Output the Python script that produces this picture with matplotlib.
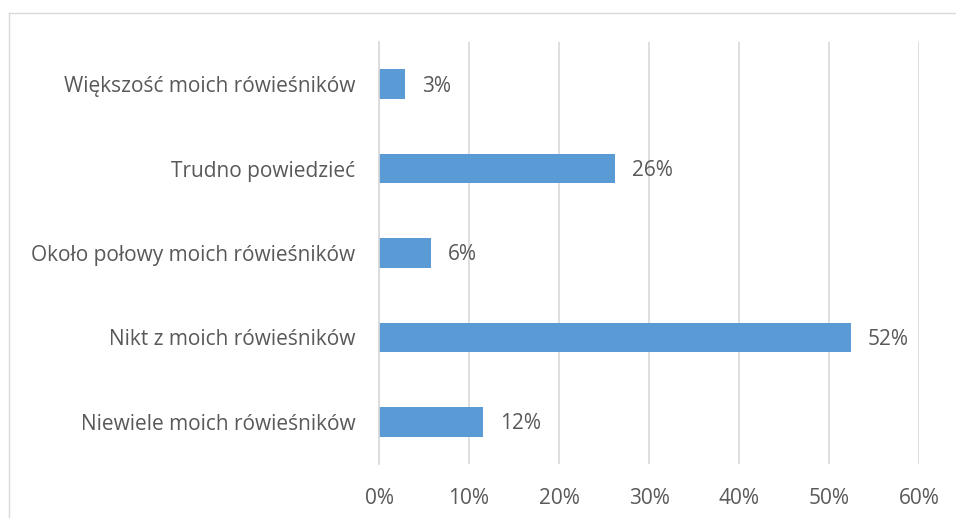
import matplotlib
matplotlib.use("Agg")
import matplotlib.pyplot as plt
from matplotlib.lines import Line2D

categories = ["Większość moich rówieśników", "Trudno powiedzieć", "Około połowy moich rówieśników",
              "Nikt z moich rówieśników", "Niewiele moich rówieśników"]
values = [2.9, 26.2, 5.8, 52.4, 11.6]
labels = ["3%", "26%", "6%", "52%", "12%"]
xticks = [0, 10, 20, 30, 40, 50, 60]
xticklabels = ["0%", "10%", "20%", "30%", "40%", "50%", "60%"]

plt.rcParams['font.family'] = ['Open Sans', 'DejaVu Sans']
W, H = 956, 518
fig = plt.figure(figsize=(W/100, H/100), dpi=100)
ax = fig.add_axes([379/W, 1 - 464/H, (919-379)/W, (464-42)/H])

grid_c = "#d9d9d9"
text_c = "#595959"
fs = 15
y = list(range(len(categories)))[::-1]
ax.barh(y, values, height=0.35, color="#5b9bd5", zorder=3)
for yi, v, lab in zip(y, values, labels):
    ax.annotate(lab, (v, yi), xytext=(17, -2), textcoords="offset pixels",
                va="center", ha="left", fontsize=fs, color=text_c)

ax.set_xlim(0, 60)
ax.set_ylim(-0.5, len(categories) - 0.5)
ax.set_xticks(xticks)
ax.set_xticklabels(xticklabels)
ax.set_yticks(y)
ax.set_yticklabels(categories)
ax.tick_params(axis='x', length=0, pad=17, labelsize=fs, labelcolor=text_c)
ax.tick_params(axis='y', length=0, pad=17, labelsize=fs, labelcolor=text_c)
ax.grid(axis='x', color=grid_c, linewidth=1.2, zorder=0)
for s in ["top", "right", "bottom"]:
    ax.spines[s].set_visible(False)
ax.spines["left"].set_color(grid_c)
ax.spines["left"].set_linewidth(1.2)
ax.spines["left"].set_zorder(4)

# outer chart frame (only left and top visible)
fig.add_artist(Line2D([8.5/W, 8.5/W], [0, 1 - 12.5/H], color=grid_c, linewidth=1, transform=fig.transFigure))
fig.add_artist(Line2D([8.5/W, 1], [1 - 12.5/H, 1 - 12.5/H], color=grid_c, linewidth=1, transform=fig.transFigure))

fig.savefig("out.png", dpi=100)
